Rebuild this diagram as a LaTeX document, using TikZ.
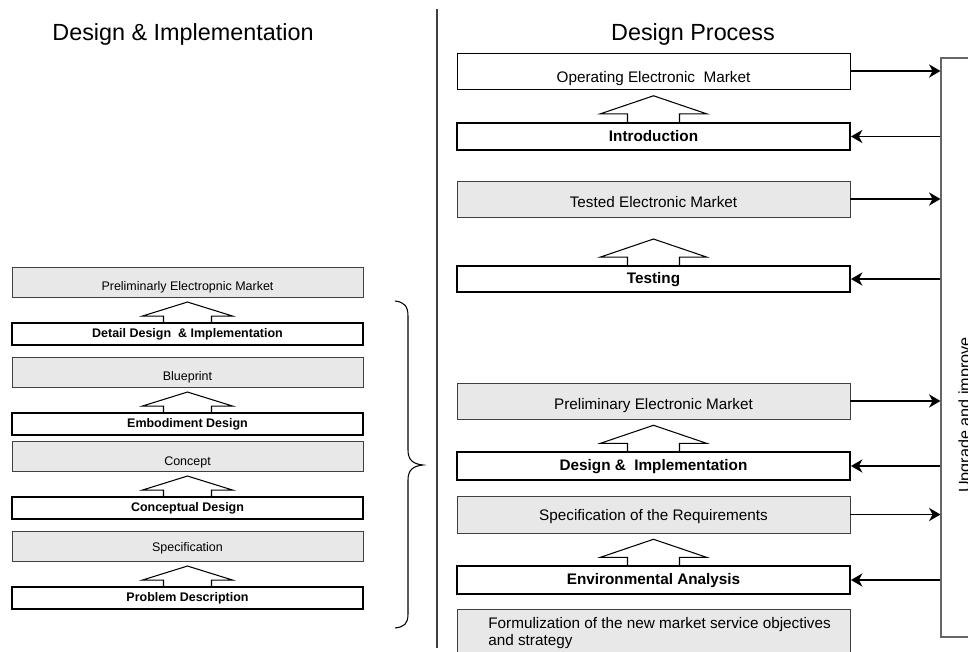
\documentclass[tikz,border=0pt]{standalone}
\usepackage{fontspec}
\setmainfont{Liberation Sans}
\usetikzlibrary{arrows.meta, positioning}

\tikzset{
  resbox/.style={rectangle, draw=black!75, line width=0.55pt, fill=black!9, inner ysep=0pt},
  stepbox/.style={rectangle, draw, line width=1.1pt, fill=white, inner ysep=0pt},
  leftfont/.style={font=\fontsize{7.1}{8.5}\selectfont},
  rightfont/.style={font=\fontsize{8.7}{9.2}\selectfont},
  leftres/.style={resbox, leftfont, minimum width=70.2mm, minimum height=6mm, text height=9.8pt, text depth=0pt},
  leftstep/.style={stepbox, minimum width=70.2mm, minimum height=4.4mm, font=\fontsize{7.1}{8.5}\selectfont\bfseries},
  rightres/.style={resbox, rightfont, minimum width=78.6mm, minimum height=7.2mm, text height=12pt, text depth=0pt},
  rightstep/.style={stepbox, minimum width=78.6mm, minimum height=5.5mm, text height=7pt, text depth=1.5pt, font=\fontsize{8.7}{10.2}\selectfont\bfseries},
  bigarrow/.style={draw, line width=0.6pt, line join=miter},
  flow/.style={-{Stealth[length=6.5pt, width=7.5pt, inset=2pt]}, line width=0.85pt},
  title/.style={font=\fontsize{13.3}{16}\selectfont}
}

\begin{document}
\begin{tikzpicture}[x=0.2mm, y=-0.2mm]
  \useasboundingbox (0,0) rectangle (968,652);

  % Titles
  \node[title] (ttlleft) at (183,34) {Design \& Implementation};
  \node[title] (ttlright) at (693,34) {Design Process};

  % Divider
  \draw[black!75, line width=0.6pt] (437,9) -- (437,648);

  % Left column: design & implementation steps
  \node[leftres] (prelim) at (187.5,282) {Preliminarly Electropnic Market};
  \node[leftstep] (detail) at (187.5,334) {Detail Design \ \& Implementation};
  \node[leftres] (blueprint) at (187.5,372) {Blueprint};
  \node[leftstep] (embod) at (187.5,424) {Embodiment Design};
  \node[leftres] (concept) at (187.5,456.5) {Concept};
  \node[leftstep] (concdes) at (187.5,508) {Conceptual Design};
  \node[leftres, text height=6pt] (spec) at (187.5,546) {Specification};
  \node[leftstep] (probdesc) at (187.5,598) {Problem Description};

  \foreach \n in {detail, embod, concdes, probdesc}
    \draw[bigarrow] (\n.north) ++(-24,0) -- ++(0,-6) -- ++(-21,0) -- ++(45,-14) -- ++(45,14) -- ++(-21,0) -- ++(0,6);

  % Brace
  \draw[line width=0.6pt] (395,301) .. controls (404,302) and (408,306) .. (408,316) -- (408,450)
    .. controls (408,460) and (413,464) .. (423,465) .. controls (413,466) and (408,470) .. (408,480)
    -- (408,614) .. controls (408,624) and (404,627) .. (395,628);

  % Right column: design process
  \node[rightres, fill=white, draw=black, text height=13pt] (oem) at (653.5,71) {Operating Electronic \ Market};
  \node[rightstep] (intro) at (653.5,136.5) {Introduction};
  \node[rightres, text height=10pt] (tem) at (653.5,199) {Tested Electronic Market};
  \node[rightstep, minimum height=5.2mm] (testing) at (653.5,279) {Testing};
  \node[rightres, text height=10pt] (pem) at (653.5,401) {Preliminary Electronic Market};
  \node[rightstep] (dimpl) at (653.5,466) {Design \& \ Implementation};
  \node[rightres, minimum height=7.4mm, text height=6.5pt] (specreq) at (653.5,514.5) {Specification of the Requirements};
  \node[rightstep] (envan) at (653.5,580) {Environmental Analysis};
  \node[resbox, minimum width=78.6mm, minimum height=13mm, anchor=north] (formul) at (653.5,609) {};
  \node[rightfont, anchor=north west, align=left, inner sep=0pt] (formultext) at (488,617.5)
        {Formulization of the new market service objectives\\and strategy};

  \foreach \n in {intro, testing, dimpl, envan}
    \draw[bigarrow] (\n.north) ++(-26,0) -- ++(0,-8) -- ++(-27,0) -- ++(53,-18) -- ++(53,18) -- ++(-27,0) -- ++(0,8);

  % Feedback box
  \node[rectangle, draw=black!60, line width=0.6pt, minimum width=12mm, minimum height=115.8mm] (upg) at (971,347.5) {};
  \node[rotate=90, font=\fontsize{9.2}{11}\selectfont] (upgtext) at (966,415) {Upgrade and improve};

  \foreach \n in {oem, tem, pem, specreq}
    \draw[flow] (\n.east) -- (\n.east -| upg.west);
  \foreach \n in {intro, testing, dimpl, envan}
    \draw[flow] (\n.east -| upg.west) -- (\n.east);

\end{tikzpicture}
\end{document}
